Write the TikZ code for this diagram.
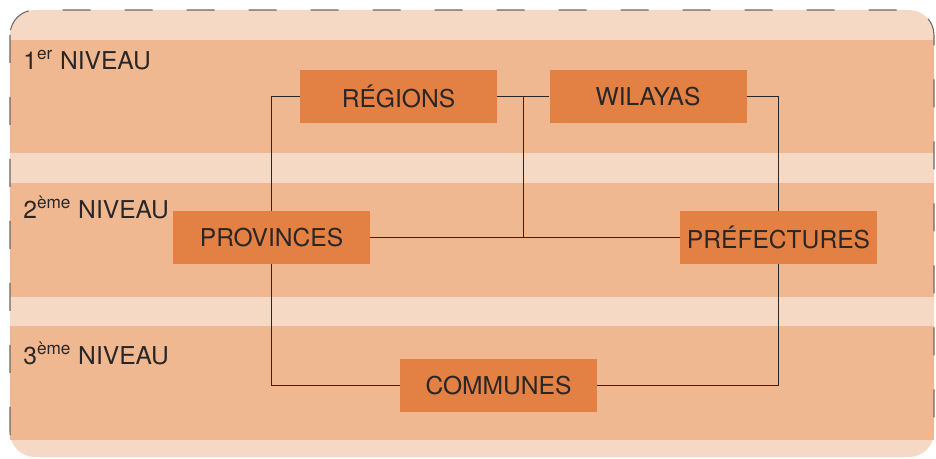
\documentclass[tikz,border=0pt]{standalone}
\usepackage{fontspec}
\setmainfont{TeX Gyre Heros}
\usetikzlibrary{calc}

\definecolor{bandclair}{HTML}{F6D9C4}
\definecolor{bandfonce}{HTML}{F0B891}
\definecolor{orangebox}{HTML}{E38043}
\definecolor{encre}{HTML}{2A2626}

\tikzset{
  unite/.style={fill=orangebox, minimum width=3.94cm, minimum height=1.06cm,
    inner sep=0pt, text=encre, font=\fontsize{14}{16}\selectfont},
  niveau/.style={anchor=base west, inner sep=0pt, text=encre,
    font=\fontsize{14}{16}\selectfont},
  lien/.style={draw=encre, line width=0.8pt}
}

\begin{document}
\begin{tikzpicture}
            \useasboundingbox (0,0) rectangle (18.72,-9.18);

            % fond et bandes des niveaux
            \fill[bandclair, rounded corners=0.5cm] (0.2,-0.2) rectangle (18.68,-9.14);
            \fill[bandfonce] (0.2,-0.8) rectangle (18.68,-3.06);
            \fill[bandfonce] (0.2,-3.66) rectangle (18.68,-5.94);
            \fill[bandfonce] (0.2,-6.52) rectangle (18.68,-8.8);
            % cadre pointille, sans le bord du bas
            \begin{scope}
              \clip (0,0) rectangle (18.72,-8.95);
              \draw[encre!70, line width=0.6pt, rounded corners=0.5cm,
                    dash pattern=on 0.56cm off 0.68cm] (0.2,-0.2) rectangle (18.68,-9.14);
            \end{scope}

            \node[niveau] (N1) at (0.46,-1.38) {1\textsuperscript{er} NIVEAU};
            \node[niveau] (N2) at (0.46,-4.36) {2\textsuperscript{ème} NIVEAU};
            \node[niveau] (N3) at (0.46,-7.28) {3\textsuperscript{ème} NIVEAU};

            \node[unite] (R) at (7.97,-1.93) {RÉGIONS};
            \node[unite] (W) at (12.96,-1.93) {WILAYAS};
            \node[unite] (P) at (5.43,-4.75) {PROVINCES};
            \node[unite] (F) at (15.57,-4.75) {PRÉFECTURES};
            \node[unite] (C) at (9.97,-7.71) {COMMUNES};

            \coordinate (M) at ($(R.east)!0.5!(W.west)$);

            \draw[lien] (R) -- (W);
            \draw[lien] (P) -- (F);
            \draw[lien] (M) -- (M |- P.east);
            \draw[lien] (R.west) -| (P.north);
            \draw[lien] (W.east) -| (F.north);
            \draw[lien] (P.south) |- (C.west);
            \draw[lien] (F.south) |- (C.east);
        \end{tikzpicture}
\end{document}
